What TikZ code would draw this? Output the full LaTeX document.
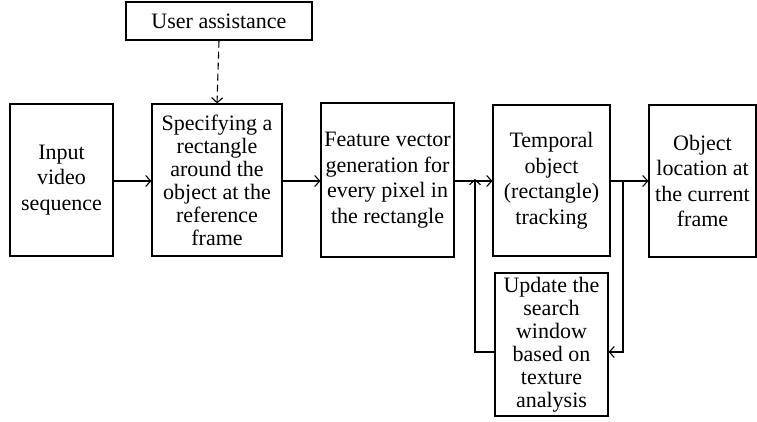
\documentclass[tikz,border=0pt]{standalone}
\usepackage{fontspec}
\setmainfont{Liberation Serif}
\usetikzlibrary{arrows.meta}
\begin{document}
\begin{tikzpicture}[x=1pt,y=-1pt,
  blk/.style={draw,line width=1.1pt,inner sep=0pt,align=center,
    font=\fontsize{22}{25.5}\selectfont},
  tight/.style={font=\fontsize{22}{23}\selectfont},
  flow/.style={line width=1.1pt,-{Straight Barb[length=5pt,width=11pt]}}]
\useasboundingbox (0,0) rectangle (757,421);
% process blocks
\node[blk,minimum width=186pt,minimum height=38pt] (ua) at (219,21) {User assistance};
\node[blk,minimum width=103pt,minimum height=152pt] (in) at (61.5,180) {Input\\video\\sequence};
\node[blk,tight,minimum width=130pt,minimum height=152pt] (spec) at (217,180) {Specifying a\\rectangle\\around the\\object at the\\reference\\frame};
\node[blk,minimum width=133pt,minimum height=154pt] (feat) at (387.5,180) {Feature vector\\generation for\\every pixel in\\the rectangle};
\node[blk,minimum width=117pt,minimum height=151pt] (temp) at (551.5,180.5) {Temporal\\object\\(rectangle)\\tracking};
\node[blk,minimum width=107pt,minimum height=152pt] (obj) at (702.5,181) {Object\\location at\\the current\\frame};
\node[blk,tight,minimum width=113pt,minimum height=143pt] (upd) at (551.5,344.5) {Update the\\search\\window\\based on\\texture\\analysis};
% junction points
\coordinate (fb) at (475,181);
\coordinate (br) at (623,181);
% connectors
\draw[flow,dash pattern=on 7pt off 4pt] (ua.south) -- (spec.north);
\draw[flow] (in.east |- 0,181) -- (spec.west |- 0,181);
\draw[flow] (spec.east |- 0,181) -- (feat.west |- 0,181);
\draw[flow] (feat.east |- 0,181) -- (temp.west |- 0,181);
\draw[flow] (temp.east |- 0,181) -- (obj.west |- 0,181);
\draw[flow] (upd.west |- 0,352) -- (fb |- 0,352) -- ([yshift=2pt]fb);
\draw[flow] (br) -- (br |- 0,352) -- (upd.east |- 0,352);
\end{tikzpicture}
\end{document}
